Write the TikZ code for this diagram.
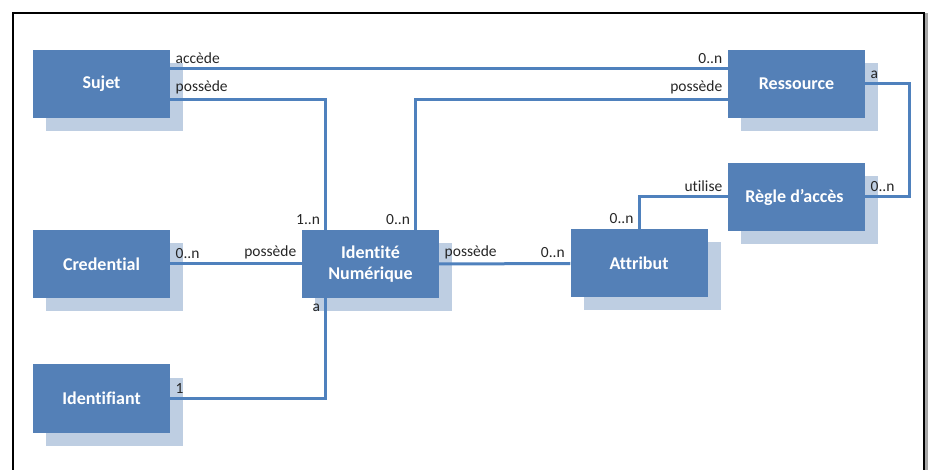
\documentclass[tikz,border=0pt]{standalone}
\usepackage{fontspec}
\setmainfont{Carlito}[Ligatures=NoCommon]
\usetikzlibrary{positioning}
\usetikzlibrary{shadows}
\definecolor{boxblue}{RGB}{84,128,183}
\definecolor{shadeblue}{RGB}{190,206,226}
\definecolor{lineblue}{RGB}{79,129,189}
\tikzset{basic box/.style={rectangle,
                           minimum width=137pt,
                           minimum height=68pt,
                           align=center}}
\tikzset{link/.style={draw=lineblue,
                      line width=3pt}}
\tikzset{card/.style={font=\fontsize{15.5}{17}\selectfont,
                      text=black!85,
                      inner sep=4pt}}

\begin{document}
\begin{tikzpicture}
      [
      x=1pt,y=-1pt,
      entity/.style={basic box,
      fill=boxblue,
      text=white,
      font=\fontsize{18}{21}\selectfont\bfseries,
      drop shadow={shadow xshift=13pt,shadow yshift=-13pt,fill=shadeblue,opacity=1}},
      ]
      \useasboundingbox (0,0) rectangle (932,470);

      % frame
      \draw [line width=3pt,black!35] (926,470) -- (926,13);
      \draw [line width=1.5pt] (13,470) -- (13,13) -- (924,13) -- (924,470);

      % entities
      \foreach \n/\x/\y/\t in
      {
      sujet/101.5/84/Sujet,
      cred/101.5/264/Credential,
      ident/101.5/398.5/Identifiant,
      idnum/370.5/264/{Identité\\Numérique},
      attr/639/263.5/Attribut,
      ress/796.5/84/Ressource,
      regle/796.5/197/{Règle d’accès}
      }
      {
      \node [entity] (\n) at (\x,\y) {\t};
      }

      % relations
      \path [link] ([yshift=15pt]sujet.east) --
      node [card,pos=0,anchor=south west] {accède}
      node [card,pos=1,anchor=south east] {0..n} ([yshift=15pt]ress.west);

      \path [link] ([yshift=-16pt]sujet.east) -|
      node [card,pos=0,anchor=south west] {possède}
      node [card,pos=1,anchor=south east] {1..n} ([xshift=-45pt]idnum.north);

      \path [link] ([yshift=-16pt]ress.west) -|
      node [card,pos=0,anchor=south east] {possède}
      node [card,pos=1,anchor=south east] {0..n} ([xshift=45pt]idnum.north);

      \path [link] (cred.east) --
      node [card,pos=0,anchor=south west] {0..n}
      node [card,pos=1,anchor=south east] {possède} (idnum.west);

      \path [link] (idnum.east) --
      node [card,pos=0,anchor=south west] {possède}
      node [card,pos=1,anchor=south east] {0..n} (attr.west);

      \path [link] (ident.east) -|
      node [card,pos=0,anchor=south west] {1}
      node [card,pos=1,anchor=north east] {a} ([xshift=-45pt]idnum.south);

      \path [link] (regle.west) -|
      node [card,pos=0,anchor=south east] {utilise}
      node [card,pos=1,anchor=south east] {0..n} (attr.north);

      \path [link] (ress.east) --
      node [card,pos=0,anchor=south west] {a} ++(44,0) |-
      node [card,pos=1,anchor=south west] {0..n} (regle.east);

    \end{tikzpicture}
\end{document}
